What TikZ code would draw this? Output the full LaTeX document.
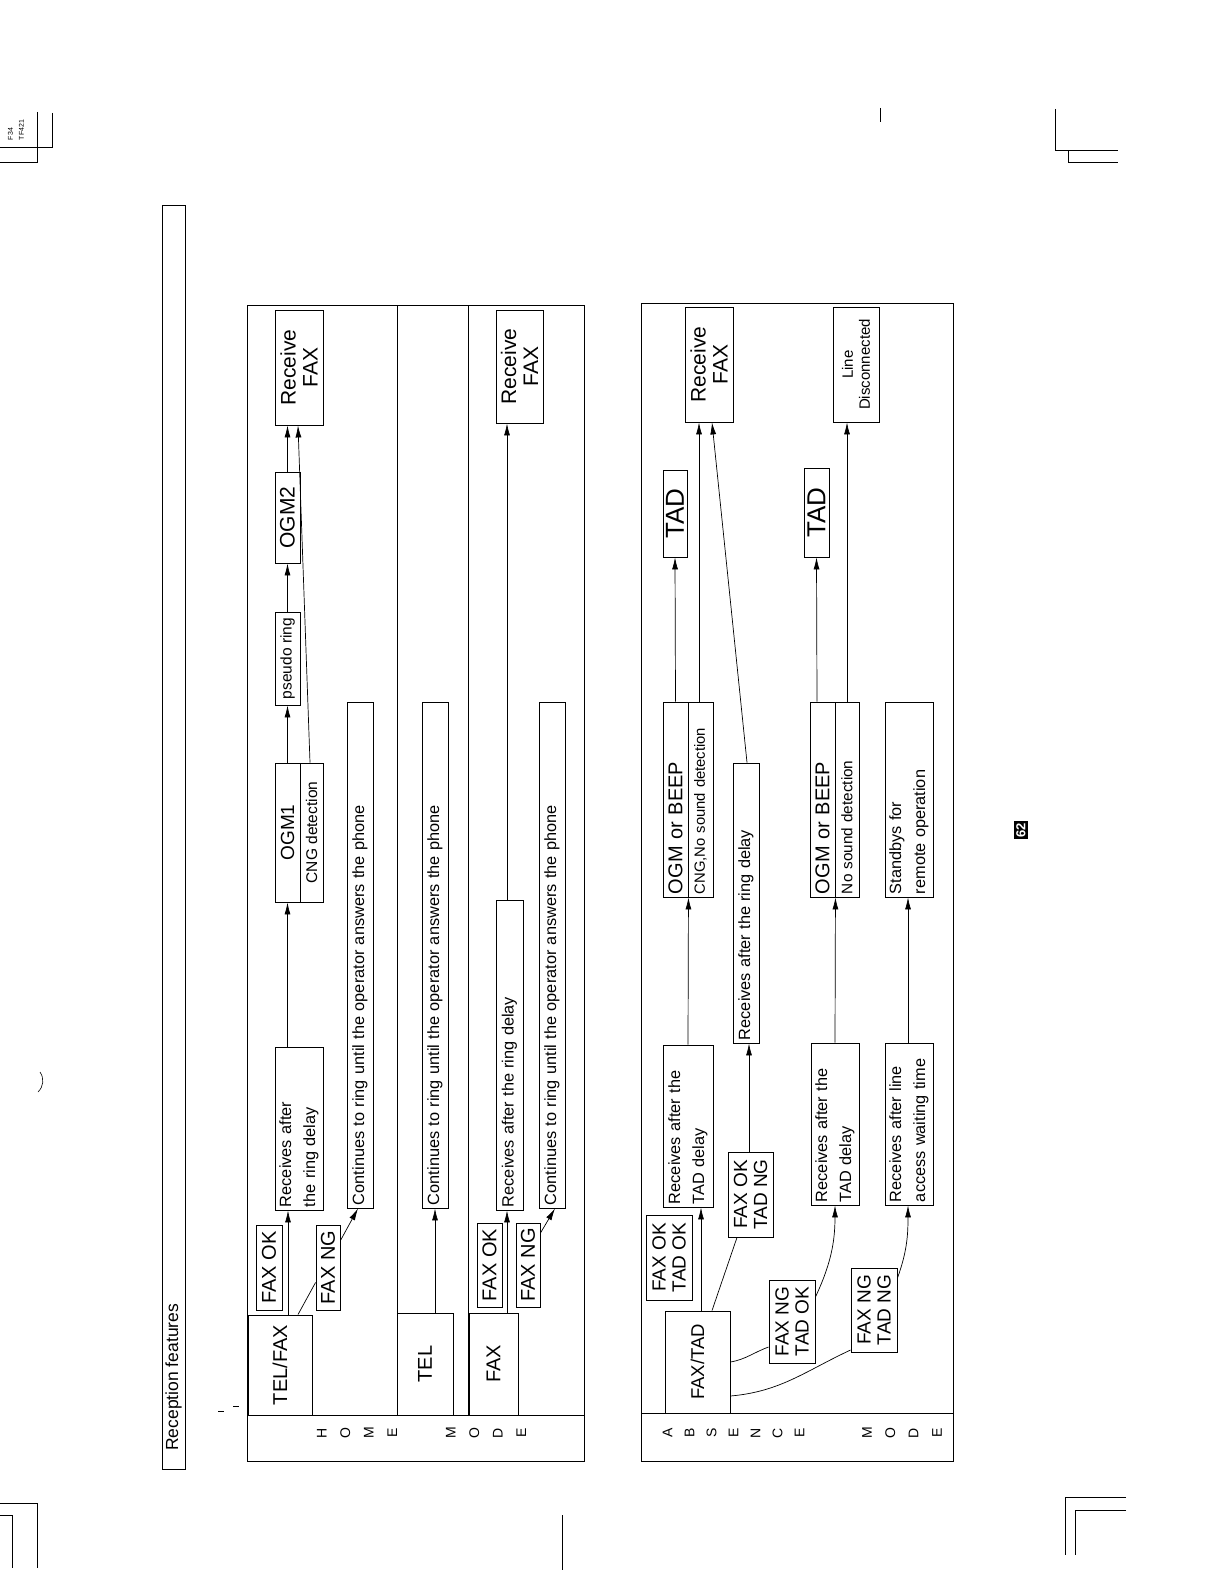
\documentclass[tikz,border=0pt]{standalone}
\usepackage{fontspec}
\setmainfont{Liberation Sans}
\usetikzlibrary{arrows.meta, calc}

\begin{document}
\begin{tikzpicture}[x=1pt, y=-1pt,
    box/.style={draw, rotate=90, inner sep=0pt, line width=.9pt, align=center, font=\fontsize{16.3}{24}\selectfont},
    sz/.style 2 args={minimum width=#1, minimum height=#2},
    lt/.style 2 args={text width=#1, minimum height=#2, inner xsep=3pt, align=left},
    bigtxt/.style={font=\fontsize{20}{20}\selectfont},
    pairtxt/.style={font=\fontsize{19}{20}\selectfont},
    rcvtxt/.style={font=\fontsize{21}{22}\selectfont},
    ogmtxt/.style={font=\fontsize{20}{20}\selectfont},
    tadtxt/.style={font=\fontsize{26}{26}\selectfont},
    smalltxt/.style={font=\fontsize{15.3}{17}\selectfont},
    letters/.style={rotate=90, align=center, inner sep=0pt},
    arr/.style={-{Latex[length=12pt,width=6pt]}, line width=.7pt},
    ln/.style={line width=.7pt}
]
\fill[white] (0,0) rectangle (1221,1584);
\useasboundingbox (0,0) rectangle (1221,1584);

% title bar
\draw[line width=.9pt] (162,205) rectangle (185,1469);
\node[rotate=90, anchor=west, inner sep=0pt, font=\fontsize{17.5}{17.5}\selectfont] (ttl) at (173.5,1451) {Reception features};

% home mode frame
\draw[line width=1pt] (247,305) rectangle (584,1461);
\draw[line width=1pt] (247,1415) -- (584,1415);
\draw[line width=1pt] (397,305) -- (397,1415);
\draw[line width=1pt] (468,305) -- (468,1415);
\node[letters, font=\fontsize{14}{23.5}\selectfont] (hm1) at (357,1433) {H\\O\\M\\E};
\node[letters, font=\fontsize{14}{23.5}\selectfont] (hm2) at (486,1433) {M\\O\\D\\E};

\node[box, bigtxt, sz={100}{64}] (tf) at (280,1365) {TEL/FAX};
\node[box, bigtxt, sz={102}{56}] (tel) at (425,1364) {TEL};
\node[box, bigtxt, sz={102}{49}] (fax) at (493.5,1364) {FAX};
\node[box, bigtxt, sz={85}{26}] (fok1) at (269,1267.5) {FAX OK};
\node[box, bigtxt, sz={85}{24}] (fng1) at (328,1267.5) {FAX NG};
\node[box, bigtxt, sz={84}{25}] (fok2) at (489.5,1265) {FAX OK};
\node[box, bigtxt, sz={84}{24}] (fng2) at (528,1265) {FAX NG};
\node[box, lt={157}{48}] (rcv1) at (299,1128.5) {Receives after\\the ring delay};
\node[box, lt={304}{27}] (rcv2) at (509.5,1055) {Receives after the ring delay};
\node[box, lt={500}{26}] (cont1) at (360,955) {Continues to ring until the operator answers the phone};
\node[box, lt={500}{26}] (cont2) at (435,955) {Continues to ring until the operator answers the phone};
\node[box, lt={500}{26}] (cont3) at (552,955) {Continues to ring until the operator answers the phone};
\node[box, sz={139}{25}, font=\fontsize{19}{19}\selectfont] (ogm1) at (287.5,832.5) {OGM1};
\node[box, sz={139}{23}, font=\fontsize{15.5}{16}\selectfont] (cng1) at (311.5,832.5) {CNG detection};
\node[box, sz={93}{25}, font=\fontsize{15.5}{16}\selectfont] (pr) at (287.5,658.5) {pseudo ring};
\node[box, sz={91}{25}, font=\fontsize{21}{21}\selectfont] (ogm2) at (287.5,517.5) {OGM2};
\node[box, rcvtxt, sz={115}{48}] (rf1) at (299,367.5) {Receive\\FAX};
\node[box, rcvtxt, sz={113}{47}] (rf2) at (519.5,366.5) {Receive\\FAX};

\draw[arr] ($(tf.east)+(8,0)$) -- ($(rcv1.west)+(-11,0)$);
\draw[ln] ($(tf.east)+(18,0)$) -- ($(fng1.north)+(0,15)$);
\draw[arr] ($(fng1.south)+(0,-27)$) -- ($(cont1.west)+(-2,0)$);
\draw[arr] ($(rcv1.east)+(-11.5,0)$) -- (ogm1.west);
\draw[arr] (ogm1.east) -- (pr.west);
\draw[arr] (pr.east) -- (ogm2.west);
\draw[arr] (ogm2.east) -- ($(rf1.west)+(-11.5,0)$);
\draw[arr] ($(cng1.east)+(-1.5,0)$) -- ($(rf1.west)+(-1,0)$);
\draw[arr] ($(tel.east)+(10,0)$) -- (cont2.west);
\draw[arr] ($(fax.east)+(13.5,0)$) -- ($(rcv2.west)+(-2.5,0)$);
\draw[arr] ($(rcv2.east)+(-2.5,0)$) -- ($(rf2.west)+(-12.5,0)$);
\draw[arr] ($(fng2.south)+(0,-32)$) -- ($(cont3.west)+(3,0)$);

% absence mode frame
\draw[line width=1pt] (641,303) rectangle (953,1461);
\draw[line width=1pt] (641,1413) -- (953,1413);
\node[letters, font=\fontsize{14}{22}\selectfont] (am1) at (733.5,1433) {A\\B\\S\\E\\N\\C\\E};
\node[letters, font=\fontsize{14}{23.3}\selectfont] (am2) at (902,1433) {M\\O\\D\\E};

\node[box, font=\fontsize{18.5}{18.5}\selectfont, sz={102}{65}] (ft) at (697.5,1362) {FAX/TAD};
\node[box, pairtxt, sz={85}{46}] (l1) at (669,1257.5) {FAX OK\\TAD OK};
\node[box, pairtxt, sz={85}{45}] (l2) at (750.5,1194.5) {FAX OK\\TAD NG};
\node[box, pairtxt, sz={83}{46}] (l3) at (792,1321.5) {FAX NG\\TAD OK};
\node[box, pairtxt, sz={84}{46}] (l4) at (874,1310) {FAX NG\\TAD NG};
\node[box, lt={156}{50}] (ra1) at (688,1126) {Receives after the\\TAD delay};
\node[box, lt={274}{26}] (rb) at (746,903) {Receives after the ring delay};
\node[box, lt={156}{48}] (ra2) at (835,1124) {Receives after the\\TAD delay};
\node[box, lt={156}{48}] (ra3) at (909,1124) {Receives after line\\access waiting time};
\node[box, ogmtxt, lt={189}{25}] (ob1) at (675.5,799.5) {OGM or BEEP};
\node[box, font=\fontsize{14.8}{16}\selectfont, lt={189}{25}] (cn1) at (700.5,799.5) {CNG,No sound detection};
\node[box, ogmtxt, lt={189}{25}] (ob2) at (822.5,799.5) {OGM or BEEP};
\node[box, smalltxt, lt={189}{24}] (ns2) at (847,799.5) {No sound detection};
\node[box, lt={189}{48}] (sb) at (909,799.5) {Standbys for\\remote operation};
\node[box, tadtxt, sz={87}{24}] (tad1) at (675,513.5) {TAD};
\node[box, tadtxt, sz={89}{25}] (tad2) at (816.5,512.5) {TAD};
\node[box, rcvtxt, sz={115}{48}] (rf3) at (709,364.5) {Receive\\FAX};
\node[box, font=\fontsize{15}{17}\selectfont, sz={115}{46}] (ld) at (856,364.5) {Line\\Disconnected};

\draw[arr] ($(ft.east)+(3.5,0)$) -- ($(ra1.west)+(13,0)$);
\draw[ln] ($(ft.east)+(14.5,0)$) -- ($(l2.west)+(-13.5,0)$);
\draw[arr] ($(l2.east)+(-1.5,0)$) -- ($(rb.west)+(3,0)$);
\draw[ln] (ft.south) to[out=10, in=200] ($(l3.north)+(0,25.5)$);
\draw[arr] ($(l3.south)+(0,-24.5)$) to[out=65, in=-90] (ra2.west);
\draw[ln] ($(ft.south)+(0,34)$) to[out=5, in=205] ($(l4.north)+(0,40)$);
\draw[arr] ($(l4.south)+(0,-32)$) to[out=70, in=-90] ($(ra3.west)+(-1,0)$);
\draw[arr] (ra1.east) -- (ob1.south west);
\draw[arr] (ob1.east) -- (tad1.west);
\draw[arr] ($(cn1.east)+(-1.5,0)$) -- ($(rf3.west)+(-10,0)$);
\draw[arr] ($(rb.east)+(1,0)$) -- ($(rf3.west)+(3,0)$);
\draw[arr] (ra2.east) -- (ob2.south west);
\draw[arr] ($(ob2.east)+(-5.5,0)$) -- (tad2.west);
\draw[arr] (ns2.east) -- ($(ld.west)+(-9,0)$);
\draw[arr] ($(ra3.east)+(-1,0)$) -- ($(sb.west)+(-1,0)$);

% page number
\node[fill=black, text=white, rotate=90, inner sep=2pt, font=\bfseries\fontsize{13}{13}\selectfont] (pg) at (1021,830) {62};

% crop marks
\node[rotate=90, align=left, inner sep=0pt, font=\fontsize{7}{11}\selectfont] (code) at (16,130) {F34\\TF421};
\draw[line width=.8pt] (37,112) -- (37,162) -- (0,162);
\draw[line width=.8pt] (52,113) -- (52,147) -- (0,147);
\draw[line width=.8pt] (1055,109) -- (1055,150) -- (1118,150);
\draw[line width=.8pt] (1068,150) -- (1068,162) -- (1118,162);
\draw[line width=.8pt] (1126,1497) -- (1065,1497) -- (1065,1555);
\draw[line width=.8pt] (1126,1510) -- (1075,1510) -- (1075,1555);
\draw[line width=.8pt] (0,1503) -- (37,1503) -- (37,1568);
\draw[line width=.8pt] (0,1515) -- (12,1515) -- (12,1568);
\draw[line width=.8pt] (562,1515) -- (562,1570);
\draw[line width=.6pt] (40,1072) to[bend left=40] (38,1092);
\draw[line width=.8pt] (218,1411) -- (224,1411);
\draw[line width=.8pt] (233,1406) -- (239,1406);
\draw[line width=.6pt] (880,108) -- (880,122);
\end{tikzpicture}
\end{document}
